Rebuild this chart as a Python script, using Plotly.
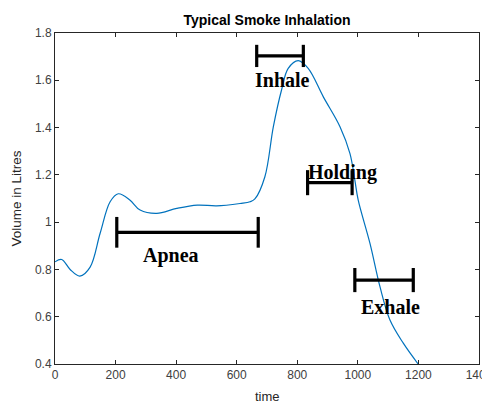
import plotly.graph_objects as go

# curve data
time = [0, 22, 50, 82, 116, 149, 182, 209, 247, 281, 336, 402, 470, 534, 611, 644, 660, 693, 721, 748, 770, 803, 836, 886, 941, 974, 990, 1001, 1040, 1073, 1106, 1150, 1199]
volume = [0.832, 0.842, 0.80, 0.772, 0.81, 0.953, 1.086, 1.12, 1.094, 1.051, 1.037, 1.058, 1.072, 1.069, 1.079, 1.086, 1.098, 1.192, 1.404, 1.559, 1.65, 1.683, 1.65, 1.53, 1.404, 1.29, 1.178, 1.094, 0.91, 0.727, 0.586, 0.488, 0.40]

# phase brackets
phase_names = ["Apnea", "Inhale", "Holding", "Exhale"]
phase_start = [204, 666, 834, 990]
phase_end = [671, 820, 981, 1183]
phase_level = [0.957, 1.703, 1.167, 0.755]
phase_cap = [0.065, 0.047, 0.053, 0.051]
label_x = [382, 751, 949, 1109]
label_y = [0.861, 1.601, 1.208, 0.641]

xticks = [0, 200, 400, 600, 800, 1000, 1200, 1400]
yticks = [0.4, 0.6, 0.8, 1.0, 1.2, 1.4, 1.6, 1.8]
ytick_text = ["0.4", "0.6", "0.8", "1", "1.2", "1.4", "1.6", "1.8"]

fig = go.Figure()
fig.add_trace(go.Scatter(x=time, y=volume, mode="lines",
                         line=dict(color="#0072BD", width=1.2, shape="spline", smoothing=1.0),
                         showlegend=False, hoverinfo="skip"))

for s, e, lv, c in zip(phase_start, phase_end, phase_level, phase_cap):
    bx = [s, s, None, s, e, None, e, e]
    by = [lv - c, lv + c, None, lv, lv, None, lv - c, lv + c]
    fig.add_trace(go.Scatter(x=bx, y=by, mode="lines",
                             line=dict(color="black", width=3.2),
                             showlegend=False, hoverinfo="skip"))

for name, lx, ly in zip(phase_names, label_x, label_y):
    fig.add_annotation(x=lx, y=ly, text="<b>" + name + "</b>", showarrow=False,
                       font=dict(family="Liberation Serif", size=20, color="black"),
                       xanchor="center", yanchor="middle")

# x-axis title placed just below the tick labels (partly clipped, as in the reference)
fig.add_annotation(x=0.5, y=-0.098, xref="paper", yref="paper", text="time", showarrow=False,
                   font=dict(family="Liberation Sans", size=13, color="#262626"),
                   xanchor="center", yanchor="middle")

axis_common = dict(showline=True, linecolor="#262626", linewidth=1, mirror="ticks",
                   ticks="inside", ticklen=4, tickcolor="#262626", showgrid=False,
                   zeroline=False, automargin=False, ticklabeloverflow="allow",
                   tickfont=dict(family="Liberation Sans", size=12, color="#404040"))

fig.update_xaxes(range=[0, 1400], tickvals=xticks, ticktext=[str(v) for v in xticks],
                 **axis_common)
fig.update_yaxes(range=[0.4, 1.8], tickvals=yticks, ticktext=ytick_text,
                 title=dict(text="Volume in Litres", font=dict(family="Liberation Sans", size=13.5, color="#262626"), standoff=10),
                 **axis_common)

# the page body adds an 8px margin, so the figure is sized to fill the rest
W, H = 482, 393
fig.update_layout(
    width=W, height=H,
    margin=dict(l=47, r=11, t=25, b=37),
    paper_bgcolor="white", plot_bgcolor="white",
    title=dict(text="<b>Typical Smoke Inhalation</b>", x=(47 + 471) / 2 / W, xanchor="center",
               y=1 - 12 / H, yanchor="middle",
               font=dict(family="Liberation Sans", size=14, color="black")),
)

fig.write_html("out.html")
